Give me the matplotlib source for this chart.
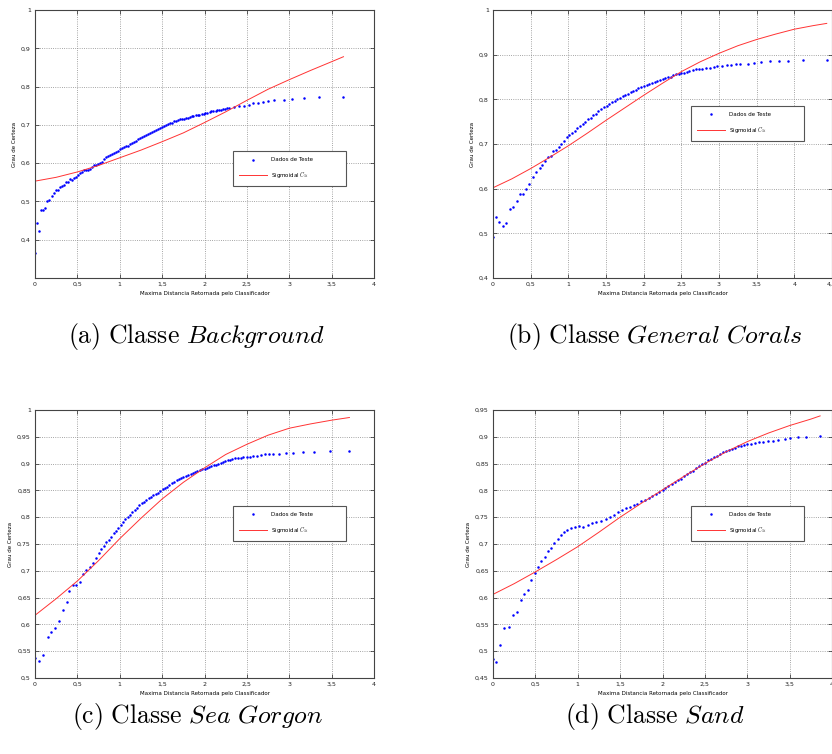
import matplotlib
matplotlib.use("Agg")
import matplotlib.pyplot as plt
from matplotlib.ticker import FuncFormatter

plt.rcParams['mathtext.fontset'] = 'cm'

# ---- data ----
# (a) Background
bg_x = [0.0, 0.024, 0.05, 0.075, 0.098, 0.12, 0.145, 0.17, 0.196, 0.22, 0.247, 0.27, 0.294, 0.318,
        0.34, 0.365, 0.39, 0.41, 0.436, 0.46, 0.483, 0.506, 0.53, 0.553, 0.577, 0.6, 0.624, 0.648,
        0.67, 0.695, 0.718, 0.742, 0.765, 0.789, 0.81, 0.836, 0.86, 0.883, 0.907, 0.93, 0.954, 0.978,
        1.0, 1.025, 1.048, 1.07, 1.095, 1.12, 1.142, 1.166, 1.19, 1.213, 1.236, 1.26, 1.284, 1.307,
        1.33, 1.354, 1.378, 1.40, 1.425, 1.45, 1.472, 1.496, 1.52, 1.543, 1.566, 1.59, 1.613, 1.637,
        1.66, 1.684, 1.708, 1.73, 1.755, 1.78, 1.80, 1.825, 1.85, 1.87, 1.895, 1.92, 1.94, 1.965,
        1.99, 2.01, 2.035, 2.06, 2.08, 2.105, 2.13, 2.15, 2.175, 2.2, 2.22, 2.245, 2.27, 2.29,
        2.35, 2.41, 2.465, 2.52, 2.575, 2.63, 2.685, 2.755, 2.82, 2.936, 3.034, 3.17, 3.35, 3.64]
bg_y = [0.366, 0.443, 0.424, 0.477, 0.477, 0.484, 0.50, 0.505, 0.513, 0.522, 0.530, 0.529, 0.538, 0.540,
        0.543, 0.55, 0.551, 0.558, 0.557, 0.561, 0.564, 0.568, 0.573, 0.577, 0.581, 0.581, 0.581, 0.586,
        0.59, 0.594, 0.595, 0.598, 0.60, 0.604, 0.61, 0.616, 0.618, 0.621, 0.624, 0.627, 0.629, 0.633,
        0.637, 0.64, 0.642, 0.644, 0.646, 0.649, 0.653, 0.656, 0.658, 0.662, 0.665, 0.669, 0.671, 0.674,
        0.676, 0.679, 0.682, 0.684, 0.687, 0.69, 0.692, 0.695, 0.697, 0.699, 0.702, 0.704, 0.706, 0.709,
        0.71, 0.712, 0.714, 0.715, 0.716, 0.718, 0.719, 0.72, 0.722, 0.723, 0.725, 0.726, 0.727, 0.728,
        0.729, 0.73, 0.732, 0.733, 0.735, 0.736, 0.737, 0.738, 0.739, 0.74, 0.741, 0.742, 0.743, 0.744,
        0.747, 0.749, 0.75, 0.753, 0.756, 0.758, 0.759, 0.762, 0.764, 0.765, 0.767, 0.769, 0.772, 0.773]
bg_fit_x = [0, 0.25, 0.5, 0.75, 1, 1.25, 1.5, 1.75, 2, 2.25, 2.5, 2.75, 3, 3.25, 3.5, 3.64]
bg_fit_y = [0.553, 0.563, 0.577, 0.594, 0.614, 0.634, 0.656, 0.679, 0.706, 0.734, 0.764, 0.793,
            0.818, 0.842, 0.865, 0.878]

# (b) General Corals
gc_x = [0.0, 0.044, 0.084, 0.128, 0.177, 0.221, 0.26, 0.314, 0.354, 0.398, 0.442, 0.482, 0.535, 0.575,
        0.62, 0.65, 0.69, 0.73, 0.765, 0.80, 0.836, 0.87, 0.907, 0.942, 0.978, 1.013, 1.05, 1.084,
        1.12, 1.155, 1.19, 1.226, 1.26, 1.296, 1.33, 1.367, 1.40, 1.438, 1.473, 1.51, 1.544, 1.58,
        1.615, 1.65, 1.686, 1.72, 1.757, 1.79, 1.827, 1.86, 1.898, 1.93, 1.97, 2.0, 2.04, 2.075,
        2.11, 2.146, 2.18, 2.217, 2.25, 2.288, 2.32, 2.358, 2.39, 2.43, 2.465, 2.5, 2.535, 2.57,
        2.606, 2.65, 2.69, 2.74, 2.78, 2.83, 2.88, 2.93, 2.98, 3.04, 3.10, 3.16, 3.22, 3.28,
        3.38, 3.47, 3.56, 3.68, 3.79, 3.92, 4.12, 4.43]
gc_y = [0.492, 0.537, 0.525, 0.516, 0.524, 0.555, 0.558, 0.572, 0.589, 0.589, 0.599, 0.611, 0.626, 0.638,
        0.646, 0.653, 0.663, 0.67, 0.673, 0.685, 0.687, 0.693, 0.70, 0.706, 0.715, 0.72, 0.725, 0.73,
        0.736, 0.741, 0.744, 0.75, 0.755, 0.759, 0.764, 0.768, 0.774, 0.778, 0.783, 0.786, 0.789, 0.793,
        0.797, 0.80, 0.803, 0.807, 0.81, 0.813, 0.816, 0.819, 0.822, 0.825, 0.827, 0.83, 0.832, 0.834,
        0.836, 0.839, 0.841, 0.843, 0.845, 0.848, 0.85, 0.851, 0.854, 0.856, 0.857, 0.859, 0.86, 0.862,
        0.864, 0.865, 0.867, 0.868, 0.869, 0.871, 0.871, 0.873, 0.874, 0.875, 0.877, 0.877, 0.879, 0.88,
        0.88, 0.882, 0.883, 0.885, 0.886, 0.886, 0.887, 0.889]
gc_fit_x = [0, 0.25, 0.5, 0.75, 1, 1.25, 1.5, 1.75, 2, 2.25, 2.5, 2.75, 3, 3.25, 3.5, 3.75, 4, 4.25, 4.43]
gc_fit_y = [0.602, 0.622, 0.645, 0.67, 0.696, 0.724, 0.753, 0.781, 0.809, 0.836, 0.862, 0.884, 0.903,
            0.92, 0.934, 0.946, 0.957, 0.965, 0.97]

# (c) Sea Gorgon
sg_x = [0.0, 0.047, 0.094, 0.149, 0.193, 0.236, 0.287, 0.334, 0.373, 0.405, 0.444, 0.487, 0.53, 0.57,
        0.605, 0.644, 0.684, 0.723, 0.754, 0.782, 0.813, 0.84, 0.872, 0.90, 0.927, 0.955, 0.982, 1.01,
        1.037, 1.065, 1.092, 1.12, 1.147, 1.175, 1.202, 1.23, 1.257, 1.285, 1.312, 1.34, 1.367, 1.395,
        1.422, 1.45, 1.477, 1.505, 1.532, 1.56, 1.587, 1.615, 1.642, 1.67, 1.697, 1.725, 1.752, 1.78,
        1.807, 1.835, 1.862, 1.89, 1.917, 1.945, 1.972, 2.0, 2.027, 2.055, 2.082, 2.11, 2.137, 2.165,
        2.19, 2.22, 2.247, 2.275, 2.30, 2.33, 2.357, 2.39, 2.43, 2.46, 2.5, 2.534, 2.57, 2.617,
        2.664, 2.71, 2.76, 2.813, 2.884, 2.963, 3.04, 3.16, 3.29, 3.48, 3.71]
sg_y = [0.537, 0.531, 0.543, 0.577, 0.586, 0.594, 0.606, 0.626, 0.641, 0.662, 0.674, 0.673, 0.679, 0.694,
        0.701, 0.707, 0.715, 0.724, 0.733, 0.74, 0.747, 0.753, 0.758, 0.763, 0.77, 0.775, 0.78, 0.785,
        0.791, 0.796, 0.801, 0.805, 0.809, 0.813, 0.818, 0.822, 0.826, 0.829, 0.833, 0.835, 0.838, 0.841,
        0.844, 0.846, 0.849, 0.852, 0.855, 0.857, 0.861, 0.864, 0.866, 0.869, 0.871, 0.873, 0.875, 0.877,
        0.879, 0.88, 0.882, 0.884, 0.886, 0.888, 0.889, 0.89, 0.892, 0.894, 0.895, 0.897, 0.898, 0.90,
        0.902, 0.903, 0.905, 0.906, 0.907, 0.908, 0.91, 0.91, 0.911, 0.912, 0.912, 0.913, 0.914, 0.915,
        0.916, 0.917, 0.917, 0.918, 0.918, 0.919, 0.92, 0.921, 0.922, 0.923, 0.924]
sg_fit_x = [0, 0.25, 0.5, 0.75, 1, 1.25, 1.5, 1.75, 2, 2.25, 2.5, 2.75, 3, 3.25, 3.5, 3.71]
sg_fit_y = [0.617, 0.648, 0.681, 0.719, 0.76, 0.798, 0.834, 0.865, 0.892, 0.917, 0.936, 0.953, 0.966,
            0.974, 0.981, 0.986]

# (d) Sand
sa_x = [0.0, 0.04, 0.08, 0.131, 0.183, 0.235, 0.279, 0.327, 0.362, 0.418, 0.45, 0.49, 0.53, 0.57,
        0.61, 0.645, 0.685, 0.725, 0.765, 0.80, 0.836, 0.876, 0.924, 0.968, 1.016, 1.063, 1.12, 1.167,
        1.219, 1.27, 1.334, 1.382, 1.43, 1.477, 1.525, 1.57, 1.617, 1.66, 1.705, 1.748, 1.79, 1.836,
        1.88, 1.923, 1.963, 2.0, 2.035, 2.07, 2.107, 2.143, 2.18, 2.214, 2.25, 2.286, 2.32, 2.357,
        2.393, 2.43, 2.465, 2.5, 2.537, 2.573, 2.61, 2.644, 2.68, 2.716, 2.752, 2.788, 2.824, 2.86,
        2.895, 2.93, 2.967, 3.0, 3.047, 3.094, 3.142, 3.19, 3.24, 3.3, 3.36, 3.44, 3.51, 3.6,
        3.69, 3.86]
sa_y = [0.486, 0.479, 0.512, 0.544, 0.546, 0.568, 0.574, 0.596, 0.606, 0.615, 0.633, 0.646, 0.657, 0.669,
        0.676, 0.687, 0.693, 0.701, 0.709, 0.717, 0.723, 0.727, 0.73, 0.731, 0.733, 0.731, 0.736, 0.74,
        0.741, 0.742, 0.747, 0.751, 0.755, 0.759, 0.764, 0.768, 0.769, 0.772, 0.775, 0.78, 0.783, 0.786,
        0.79, 0.794, 0.797, 0.801, 0.804, 0.808, 0.812, 0.815, 0.819, 0.822, 0.826, 0.83, 0.834, 0.837,
        0.841, 0.845, 0.849, 0.852, 0.856, 0.859, 0.862, 0.865, 0.868, 0.871, 0.873, 0.876, 0.878, 0.88,
        0.882, 0.883, 0.885, 0.886, 0.887, 0.888, 0.89, 0.891, 0.892, 0.893, 0.894, 0.896, 0.898, 0.899,
        0.9, 0.901]
sa_fit_x = [0, 0.25, 0.5, 0.75, 1, 1.25, 1.5, 1.75, 2, 2.25, 2.5, 2.75, 3, 3.25, 3.5, 3.75, 3.86]
sa_fit_y = [0.606, 0.626, 0.648, 0.671, 0.695, 0.722, 0.75, 0.776, 0.801, 0.826, 0.85, 0.872, 0.891,
            0.907, 0.921, 0.933, 0.939]

captions = [r"$\mathrm{(a)\ Classe}\ \mathit{Background}$",
            r"$\mathrm{(b)\ Classe}\ \mathit{General\ Corals}$",
            r"$\mathrm{(c)\ Classe}\ \mathit{Sea\ Gorgon}$",
            r"$\mathrm{(d)\ Classe}\ \mathit{Sand}$"]


def comma(v, pos):
    return ("%g" % round(v, 3)).replace(".", ",")


def panel(pos, x, y, fx, fy, xmax, ylim, ystep, leg_box):
    ax = fig.add_axes(pos)
    ax.plot(x, y, 'o', color='blue', markersize=1.8, markeredgewidth=0, label='Dados de Teste')
    ax.plot(fx, fy, '-', color='#ff3333', linewidth=0.7, label=r'Sigmoidal $C_{1i}$')
    ax.set_xlim(0, xmax)
    ax.set_ylim(*ylim)
    ax.set_xticks([i * 0.5 for i in range(int(xmax / 0.5) + 1)])
    n = int(round((ylim[1] - ylim[0]) / ystep))
    yt = [round(ylim[0] + i * ystep, 3) for i in range(n + 1)]
    if ylim[0] == 0.3:
        yt = yt[1:]
    ax.set_yticks(yt)
    ax.xaxis.set_major_formatter(FuncFormatter(comma))
    ax.yaxis.set_major_formatter(FuncFormatter(comma))
    ax.tick_params(direction='in', length=3, width=0.5, labelsize=4.5, pad=3,
                   top=True, right=True, colors='#222222')
    ax.grid(True, linestyle=':', color='#888888', linewidth=0.6)
    for s in ax.spines.values():
        s.set_color('#444444')
        s.set_linewidth(0.8)
    ax.set_xlabel('Maxima Distancia Retornada pelo Classificador', fontsize=4, labelpad=3)
    ax.set_ylabel('Grau de Certeza', fontsize=4, labelpad=3)
    leg = ax.legend(loc='upper left', bbox_to_anchor=leg_box, mode='expand', fontsize=4,
                    handlelength=5, handletextpad=0.7, labelspacing=1.3, borderpad=1.2,
                    fancybox=False, framealpha=1, edgecolor='#555555', numpoints=1)
    leg.get_frame().set_linewidth(0.8)
    return ax


fig = plt.figure(figsize=(8.32, 7.54), dpi=100)

W = 339 / 832
H = 268 / 754
panel([35 / 832, 1 - 278 / 754, W, H], bg_x, bg_y, bg_fit_x, bg_fit_y, 4, (0.3, 1.0), 0.1,
      (0.575, 0.351, 0.351, 0.134))
panel([493 / 832, 1 - 278 / 754, W, H], gc_x, gc_y, gc_fit_x, gc_fit_y, 4.5, (0.4, 1.0), 0.1,
      (0.575, 0.519, 0.351, 0.134))
panel([35 / 832, 1 - 678 / 754, W, H], sg_x, sg_y, sg_fit_x, sg_fit_y, 4, (0.5, 1.0), 0.05,
      (0.575, 0.519, 0.351, 0.134))
panel([493 / 832, 1 - 678 / 754, W, H], sa_x, sa_y, sa_fit_x, sa_fit_y, 4, (0.45, 0.95), 0.05,
      (0.575, 0.519, 0.351, 0.134))

fig.text(197 / 832, 1 - 337 / 754, captions[0], ha='center', va='center', fontsize=18.5)
fig.text(655 / 832, 1 - 337 / 754, captions[1], ha='center', va='center', fontsize=18.5)
fig.text(197 / 832, 1 - 716 / 754, captions[2], ha='center', va='center', fontsize=18.5)
fig.text(655 / 832, 1 - 716 / 754, captions[3], ha='center', va='center', fontsize=18.5)

fig.savefig('out.png', dpi=100)
